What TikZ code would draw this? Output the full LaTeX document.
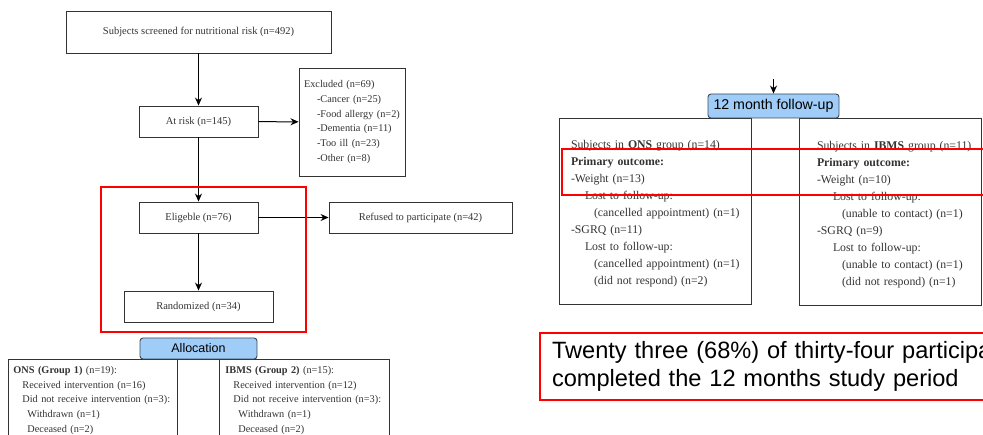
\documentclass[tikz,border=0pt]{standalone}
\usepackage{fontspec}
\setmainfont{Liberation Serif}
\newfontfamily\arialfont{Liberation Sans}
\usepackage[dvipsnames]{xcolor}
\usetikzlibrary{arrows.meta}

\definecolor{headblue}{HTML}{A0CCF8}
\definecolor{headedge}{HTML}{3C4A5A}

\begin{document}
\begin{tikzpicture}[x=1pt,y=-1pt,->,>={Stealth[length=8pt,width=7pt]},line width=1pt,
    flow node/.style={draw=black!80,line width=0.9pt,inner sep=0pt,text=black!80,font=\fontsize{10.5}{12}\selectfont},
    list node/.style={draw=black!80,line width=0.9pt,align=left,text=black!80,font=\fontsize{10.3}{14.7}\selectfont},
    result node/.style={draw=black!80,line width=0.9pt,align=left,text=black!80,font=\fontsize{11.8}{17}\selectfont},
    head node/.style={draw=headedge,line width=0.9pt,fill=headblue,rounded corners=3pt,inner sep=0pt,font=\arialfont},
    red frame/.style={-,draw=red,line width=2.5pt}]
            \path[use as bounding box,clip] (0,0) rectangle (983,435);

            % screening part
            \node[flow node] (1) at (198.5,32) [minimum width=265pt,minimum height=42pt]{Subjects screened for nutritional risk (n=492)};
            \node[flow node] (2) at (198.5,121.5) [minimum width=119pt,minimum height=31pt]{At risk (n=145)};
            \node[list node] (3) at (352,122) [minimum width=106pt,minimum height=108pt,text width=96pt,inner xsep=5pt]{Excluded (n=69)\\
                \hspace*{13pt}\mbox{-Cancer (n=25)}\\ \hspace*{13pt}\mbox{-Food allergy (n=2)}\\ \hspace*{13pt}\mbox{-Dementia (n=11)}\\
                \hspace*{13pt}\mbox{-Too ill (n=23)}\\ \hspace*{13pt}\mbox{-Other (n=8)}};
            \node[flow node] (4) at (198.5,217.5) [minimum width=119pt,minimum height=31pt]{Eligeble (n=76)};
            \node[flow node] (5) at (420.5,217.5) [minimum width=183pt,minimum height=31pt]{Refused to participate (n=42)};
            \node[flow node] (6) at (198.5,306.5) [minimum width=149pt,minimum height=31pt]{Randomized (n=34)};

            \path
                (1) edge (2)
                (2) edge (3)
                (2) edge (4)
                (4) edge (5)
                (4) edge (6)
                ;

            % allocation
            \node[list node] (7) at (8,359) [anchor=north west,text width=159pt,inner xsep=5pt,inner ysep=7pt,text depth=90pt]{\textbf{ONS (Group 1)} (n=19):\\
                \hspace*{9pt}\mbox{Received intervention (n=16)}\\ \hspace*{9pt}\mbox{Did not receive intervention (n=3):}\\
                \hspace*{14pt}Withdrawn (n=1)\\ \hspace*{14pt}Deceased (n=2)};
            \node[list node] (8) at (219,359) [anchor=north west,text width=158pt,inner xsep=6pt,inner ysep=7pt,text depth=90pt]{\textbf{IBMS (Group 2)} (n=15):\\
                \hspace*{8pt}\mbox{Received intervention (n=12)}\\ \hspace*{8pt}\mbox{Did not receive intervention (n=3):}\\
                \hspace*{13pt}Withdrawn (n=1)\\ \hspace*{13pt}Deceased (n=2)};
            \draw[-,draw=black!80,line width=0.9pt] (7.north east) -- (8.north west);
            \node[head node] (9) at (198.5,348.5) [minimum width=117pt,minimum height=21pt,font=\arialfont\fontsize{12.5}{14}\selectfont]{Allocation};

            % follow-up
            \coordinate (10) at (773.5,79);
            \node[result node] (11) at (655,211) [minimum width=192pt,minimum height=186pt,text width=168pt,inner xsep=12pt,text height=14pt]{\mbox{Subjects in \textbf{ONS} group (n=14)}\\
                \textbf{Primary outcome:}\\ -Weight (n=13)\\ \hspace*{14pt}Lost to follow-up:\\
                \hspace*{23pt}\mbox{(cancelled appointment) (n=1)}\\ -SGRQ (n=11)\\ \hspace*{14pt}Lost to follow-up:\\
                \hspace*{23pt}\mbox{(cancelled appointment) (n=1)}\\ \hspace*{23pt}\mbox{(did not respond) (n=2)}};
            \node[result node] (12) at (890,211.5) [minimum width=182pt,minimum height=187pt,text width=146pt,inner xsep=18pt,text height=14pt]{\mbox{Subjects in \textbf{IBMS} group (n=11)}\\
                \textbf{Primary outcome:}\\ -Weight (n=10)\\ \hspace*{16pt}Lost to follow-up:\\
                \hspace*{25pt}\mbox{(unable to contact) (n=1)}\\ -SGRQ (n=9)\\ \hspace*{16pt}Lost to follow-up:\\
                \hspace*{25pt}\mbox{(unable to contact) (n=1)}\\ \hspace*{25pt}\mbox{(did not respond) (n=1)}};
            \draw[-,draw=black!80,line width=0.9pt] (11.north east) -- (12.north west);
            \node[head node] (13) at (773.5,106) [minimum width=131pt,minimum height=24pt,font=\arialfont\fontsize{14.2}{16}\selectfont]{12 month follow-up};
            \path (10) edge (13);

            % highlights
            \draw[red frame] (101,187) rectangle (306,332);
            \draw[red frame] (562,149) rectangle (1000,195);
            \node[red frame,line width=2pt,anchor=north west,align=left,text width=446pt,inner xsep=12pt,minimum height=67pt,
                font=\arialfont\fontsize{23.6}{28}\selectfont] (14) at (539,332) {\mbox{Twenty three (68\%) of thirty-four participants}\\ completed the 12 months study period};
        \end{tikzpicture}
\end{document}
